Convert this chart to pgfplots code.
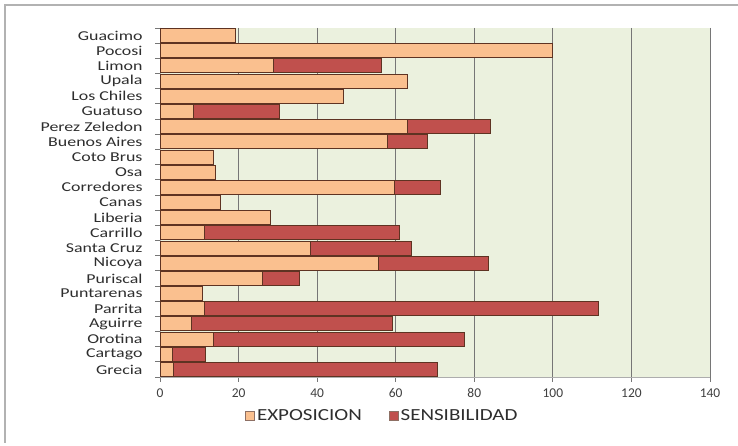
\documentclass[border=0pt]{standalone}
\usepackage{pgfplots}
\pgfplotsset{compat=1.18}
\usepackage{fontspec}
\setmainfont{Carlito}
\newfontfamily\widefont{Carlito}[FakeStretch=1.32]
\newfontfamily\legfont{Carlito}[FakeStretch=1.24]
\definecolor{expo}{HTML}{FAC08F}
\definecolor{sens}{HTML}{C0504D}
\definecolor{barline}{HTML}{5E3322}
\definecolor{plotbg}{HTML}{EBF1DE}
\definecolor{gridc}{HTML}{767676}

\begin{document}
\begin{tikzpicture}[x=1bp,y=1bp]
\useasboundingbox (0,0) rectangle (738,446);
\fill[white] (0,0) rectangle (738,446);
% chart frame
\draw[black!30, line width=1.2bp] (5,3) -- (5,441) -- (745,441);
\begin{axis}[
  at={(160bp,69bp)}, anchor=south west,
  scale only axis, width=550bp, height=349bp,
  xbar stacked, bar width=14bp,
  xmin=0, xmax=140, xtick={0,20,...,140},
  ymin=-0.5, ymax=22.5, y dir=reverse,
  ytick={0,...,22},
  yticklabels={Guacimo,Pocosi,Limon,Upala,Los Chiles,Guatuso,Perez Zeledon,Buenos Aires,Coto Brus,Osa,Corredores,Canas,Liberia,Carrillo,Santa Cruz,Nicoya,Puriscal,Puntarenas,Parrita,Aguirre,Orotina,Cartago,Grecia},
  minor ytick={-0.5,0.5,...,22.5},
  major y tick style={draw=none},
  minor tick length=5bp, major tick length=5bp,
  tick align=outside,
  xtick pos=bottom, ytick pos=left,
  tick style={gridc, line width=0.8bp},
  xmajorgrids, major x grid style={gridc, line width=0.9bp},
  axis background/.style={fill=plotbg},
  axis line style={draw=gridc!60, line width=0.6bp},
  axis x line*=bottom, axis y line*=left,
  /pgf/number format/assume math mode=true,
  xticklabel style={font=\fontsize{13.5}{14}\selectfont, text=black!75, yshift=-3bp},
  yticklabel style={font=\widefont\fontsize{13.6}{12}\selectfont, text=black!82, xshift=-9bp},
  legend columns=2,
  legend style={draw=none, fill=none, at={(0.155,-0.112)}, anchor=west,
    font=\legfont\fontsize{17}{17}\selectfont, text=black!82,
    /tikz/every even column/.append style={column sep=25bp},
    inner sep=0pt, outer sep=0pt},
  legend image code/.code={\draw[#1, draw=barline!70, line width=0.8bp] (0bp,-4.5bp) rectangle (9bp,4.5bp);},
]
% exposure component
\addplot[fill=expo, draw=barline, line width=0.9bp] coordinates {
 (19.1,0) (99.8,1) (28.8,2) (62.9,3) (46.6,4) (8.6,5) (62.9,6) (57.8,7)
 (13.5,8) (14.0,9) (59.8,10) (15.5,11) (28.2,12) (11.2,13) (38.4,14)
 (55.7,15) (26.2,16) (10.9,17) (11.3,18) (8.1,19) (13.7,20) (3.1,21) (3.5,22)};
% sensitivity component, stacked on exposure
\addplot[fill=sens, draw=barline, line width=0.9bp] coordinates {
 (0,0) (0,1) (27.6,2) (0,3) (0,4) (21.9,5) (21.1,6) (10.4,7)
 (0,8) (0,9) (11.5,10) (0,11) (0,12) (49.8,13) (25.6,14)
 (27.9,15) (9.2,16) (0,17) (100.2,18) (51.0,19) (63.7,20) (8.4,21) (67.1,22)};
\legend{EXPOSICION, SENSIBILIDAD}
\end{axis}
\end{tikzpicture}
\end{document}
